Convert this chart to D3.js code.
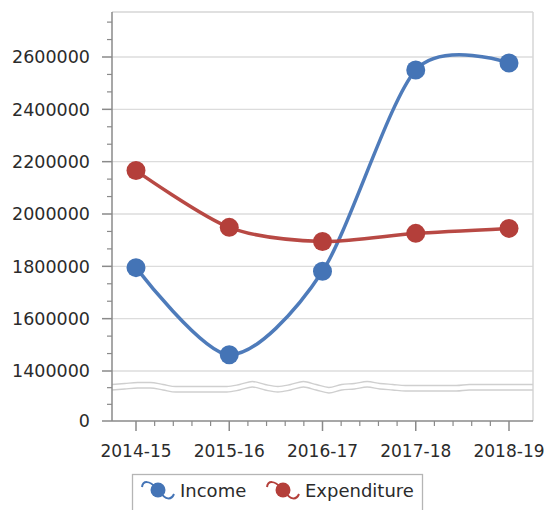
<!DOCTYPE html>
<html>
<head>
<meta charset="utf-8">
<title>Income and Expenditure</title>
<script src="https://d3js.org/d3.v7.min.js"></script>
<style>
body { margin: 0; background: #fff; }
svg text { font-family: "DejaVu Sans", Verdana, sans-serif; fill: #2b2b2b; }
</style>
</head>
<body>
<div id="chart"></div>
<script>
// data
var years = ["2014-15", "2015-16", "2016-17", "2017-18", "2018-19"];
var income = [1795000, 1462000, 1781000, 2550000, 2577000];
var expenditure = [2166000, 1949000, 1895000, 1926000, 1945000];
var seriesNames = ["Income", "Expenditure"];
var yTicks = [0, 1400000, 1600000, 1800000, 2000000, 2200000, 2400000, 2600000];
var yTickLabels = ["0", "1400000", "1600000", "1800000", "2000000", "2200000", "2400000", "2600000"];

var colors = ["#4474b6", "#b43f3a"];

var W = 546, H = 510;
// (window.top is read-only, so use other names)
var plotLeft = 112, plotRight = 533, plotTop = 12, plotBottom = 421;

var svg = d3.select("#chart").append("svg")
  .attr("width", W).attr("height", H);

// broken axis: 0 sits one step below 1400000
var y = d3.scaleLinear()
  .domain([0, 1400000, 2600000])
  .range([plotBottom, 371, 57]);

var x = d3.scalePoint()
  .domain(years)
  .range([136, 509]);

// grid
svg.append("g").selectAll("line")
  .data(yTicks.slice(1))
  .enter().append("line")
    .attr("x1", plotLeft).attr("x2", plotRight)
    .attr("y1", function(d) { return y(d); })
    .attr("y2", function(d) { return y(d); })
    .attr("stroke", "#dcdcdc").attr("stroke-width", 1.3);

// frame top / right
svg.append("line").attr("x1", plotLeft).attr("x2", plotRight).attr("y1", plotTop).attr("y2", plotTop)
  .attr("stroke", "#d6d6d6").attr("stroke-width", 1.5);
svg.append("line").attr("x1", plotRight).attr("x2", plotRight).attr("y1", plotTop).attr("y2", plotBottom)
  .attr("stroke", "#d6d6d6").attr("stroke-width", 1.5);

// axis break (double wavy line)
var wave = [0, -1, -2, -2, 0, 2, 2, 2, 2, 2, 0, -3, 0, 2, 0, -3, 0, 3, 0, -1, -3, -1, 0, 1, 1, 1, 1, 1, 0, 0, 0, 0, 0, 0];
var waveLine = d3.line()
  .x(function(d, i) { return plotLeft + i * (plotRight - plotLeft) / (wave.length - 1); })
  .y(function(d) { return d; })
  .curve(d3.curveMonotoneX);
[384.5, 390].forEach(function(base) {
  svg.append("path")
    .attr("d", waveLine(wave))
    .attr("transform", "translate(0," + base + ")")
    .attr("fill", "none").attr("stroke", "#cfcfcf").attr("stroke-width", 1.3);
});

// y axis
var yAxis = svg.append("g").attr("transform", "translate(" + plotLeft + ",0)");
yAxis.append("line").attr("y1", plotTop).attr("y2", plotBottom)
  .attr("stroke", "#8a8a8a").attr("stroke-width", 1.5);

var minorY = [];
for (var i = 0; i < yTicks.length - 1; i++) {
  var a = y(yTicks[i]), b = y(yTicks[i + 1]);
  minorY.push(a + (b - a) / 3, a + 2 * (b - a) / 3);
}
var step = (y(yTicks[yTicks.length - 2]) - y(yTicks[yTicks.length - 1])) / 3;
for (var p = y(yTicks[yTicks.length - 1]) - step; p > plotTop + 2; p -= step) minorY.push(p);

yAxis.selectAll(".minor").data(minorY).enter().append("line")
  .attr("x1", -5).attr("x2", 0)
  .attr("y1", function(d) { return d; }).attr("y2", function(d) { return d; })
  .attr("stroke", "#8a8a8a").attr("stroke-width", 1.2);

yAxis.selectAll(".major").data(yTicks).enter().append("line")
  .attr("x1", -10).attr("x2", 0)
  .attr("y1", function(d) { return y(d); }).attr("y2", function(d) { return y(d); })
  .attr("stroke", "#8a8a8a").attr("stroke-width", 1.5);

yAxis.selectAll("text").data(yTicks).enter().append("text")
  .attr("x", -22)
  .attr("y", function(d) { return y(d); })
  .attr("dy", "0.36em")
  .attr("text-anchor", "end")
  .style("font-size", "17.5px")
  .text(function(d, i) { return yTickLabels[i]; });

// x axis
var xAxis = svg.append("g").attr("transform", "translate(0," + plotBottom + ")");
xAxis.append("line").attr("x1", plotLeft).attr("x2", plotRight)
  .attr("stroke", "#8a8a8a").attr("stroke-width", 1.5);

var minorX = [];
for (var j = 0; j < years.length - 1; j++) {
  for (var k = 1; k < 5; k++) minorX.push(x(years[j]) + k * x.step() / 5);
}
xAxis.selectAll(".minor").data(minorX).enter().append("line")
  .attr("x1", function(d) { return d; }).attr("x2", function(d) { return d; })
  .attr("y1", 0).attr("y2", 5)
  .attr("stroke", "#8a8a8a").attr("stroke-width", 1.2);
xAxis.selectAll(".major").data(years).enter().append("line")
  .attr("x1", function(d) { return x(d); }).attr("x2", function(d) { return x(d); })
  .attr("y1", 0).attr("y2", 10)
  .attr("stroke", "#8a8a8a").attr("stroke-width", 1.5);
xAxis.selectAll("text").data(years).enter().append("text")
  .attr("x", function(d) { return x(d); })
  .attr("y", 36)
  .attr("text-anchor", "middle")
  .style("font-size", "17px")
  .text(function(d) { return d; });

// lines
var line = d3.line()
  .x(function(d, i) { return x(years[i]); })
  .y(function(d) { return y(d); })
  .curve(d3.curveCardinal.tension(0.15));

[income, expenditure].forEach(function(vals, s) {
  var g = svg.append("g");
  g.append("path")
    .attr("d", line(vals))
    .attr("fill", "none")
    .attr("stroke", colors[s])
    .attr("stroke-width", 3.5)
    .attr("opacity", 0.95);
  g.selectAll("circle").data(vals).enter().append("circle")
    .attr("cx", function(d, i) { return x(years[i]); })
    .attr("cy", function(d) { return y(d); })
    .attr("r", 9.5)
    .attr("fill", colors[s]);
});

// legend
var legend = svg.append("g");
legend.append("rect")
  .attr("x", 132.5).attr("y", 474.5)
  .attr("width", 290).attr("height", 50)
  .attr("fill", "#fff").attr("stroke", "#b5b5b5").attr("stroke-width", 1.3);

var legendX = [158, 283];
seriesNames.forEach(function(name, s) {
  var g = legend.append("g").attr("transform", "translate(" + legendX[s] + ",490)");
  g.append("path")
    .attr("d", "M-16,-3 C-15,-10 -8,-9 -3,-3 M3,3 C7,9 13,11 16,4")
    .attr("fill", "none").attr("stroke", colors[s]).attr("stroke-width", 2);
  g.append("circle").attr("r", 7.5).attr("fill", colors[s]);
  g.append("text")
    .attr("x", 22).attr("y", 0).attr("dy", "0.38em")
    .style("font-size", "18px")
    .text(name);
});
</script>
</body>
</html>
